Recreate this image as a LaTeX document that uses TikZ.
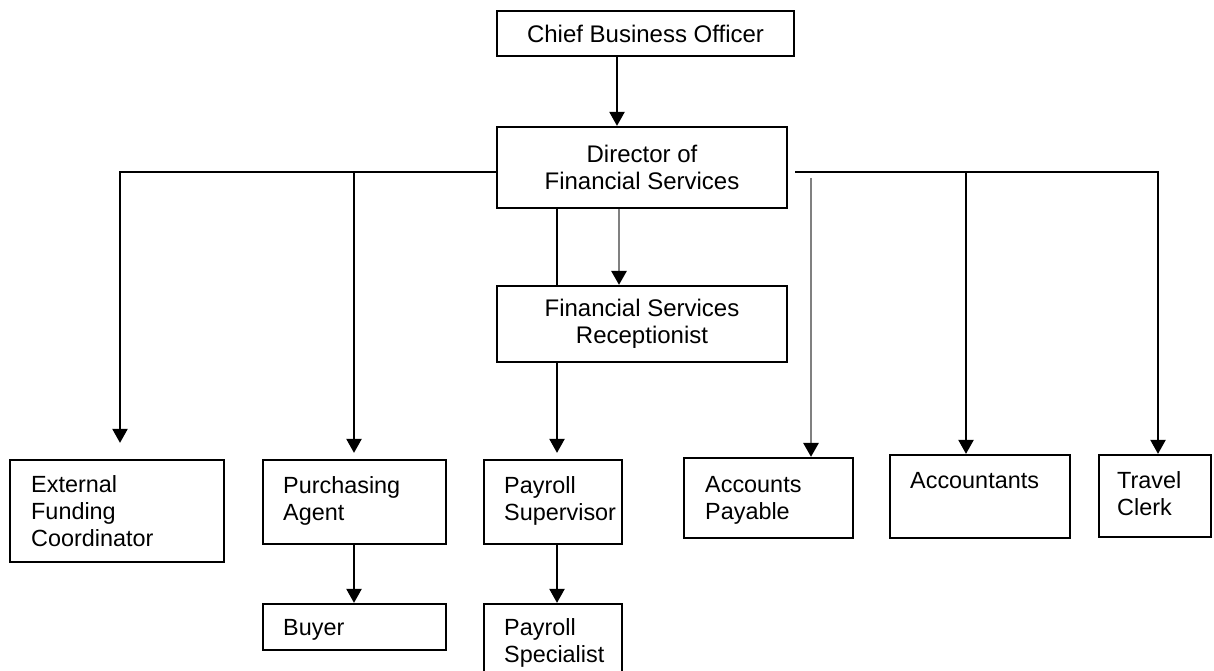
\documentclass[tikz,border=0pt]{standalone}
\usepackage{fontspec}
\setmainfont{Liberation Sans}
\usepackage{xcolor}
\usetikzlibrary{arrows.meta, backgrounds}

\definecolor{linkgray}{gray}{0.5}

\begin{document}
\begin{tikzpicture}[
    x=1pt, y=-1pt,
    font=\fontsize{24}{27}\selectfont,
    box/.style={rectangle, draw, line width=2.2pt, fill=white, align=center, inner sep=0pt},
    tag/.style={anchor=base west, align=left, inner sep=0pt, font=\fontsize{23.4}{27}\selectfont},
    arrow/.style={-{Triangle[width=15pt, length=14pt]}, line width=2.2pt},
    greyarrow/.style={arrow, draw=linkgray, line width=2.8pt, -{Triangle[width=15pt, length=14pt, color=black]}}
]
\useasboundingbox (0,0) rectangle (1214,671);
\clip (0,0) rectangle (1214,671);

\node[box, minimum width=297, minimum height=45] (cbo) at (645.5,33.5) {Chief Business Officer};
\node[box, minimum width=290, minimum height=81] (dfs) at (642,167.5) {Director of\\Financial Services};
\node[box, minimum width=290, minimum height=76] (fsr) at (642,324) {Financial Services\\Receptionist};

\node[box, minimum width=214, minimum height=102] (efc) at (117,511) {};
\node[box, minimum width=183, minimum height=84] (pa) at (354.5,502) {};
\node[box, minimum width=138, minimum height=84] (ps) at (553,502) {};
\node[box, minimum width=183, minimum height=46] (buyer) at (354.5,627) {};
\node[box, minimum width=138, minimum height=96] (pspec) at (553,652) {};
\node[box, minimum width=169, minimum height=80] (ap) at (768.5,498) {};
\node[box, minimum width=180, minimum height=83] (acc) at (980,496.5) {};
\node[box, minimum width=112, minimum height=82] (travel) at (1155,496) {};

% tags sit on the baseline of their last line
\node[tag] (efc-text) at (31,546) {External\\Funding\\Coordinator};
\node[tag] (pa-text) at (283,520) {Purchasing\\Agent};
\node[tag] (ps-text) at (504,520) {Payroll\\Supervisor};
\node[tag] (buyer-text) at (283,635) {Buyer};
\node[tag] (pspec-text) at (504,662) {Payroll\\Specialist};
\node[tag] (ap-text) at (705,519) {Accounts\\Payable};
\node[tag] (acc-text) at (910,488) {Accountants};
\node[tag] (travel-text) at (1117,515) {Travel\\Clerk};

\coordinate (lbus) at ([yshift=-4.5pt]dfs.west);
\coordinate (rbus) at ([xshift=7pt, yshift=-4.5pt]dfs.east);
\coordinate (ap-top) at (811,178);

\begin{scope}[on background layer]
\draw[arrow] (cbo.south -| 617,0) -- (dfs.north -| 617,0);
\draw[greyarrow] (dfs.south -| 619,0) -- (fsr.north -| 619,0);
\draw[arrow, shorten >=16pt] (lbus) -| (efc.north -| 120,0);
\draw[arrow, shorten >=6pt] (lbus -| 354,0) -- (pa.north -| 354,0);
\draw[arrow, shorten >=6pt] (dfs.south -| 557,0) -- (ps.north -| 557,0);
\draw[arrow] (pa.south -| 354,0) -- (buyer.north -| 354,0);
\draw[arrow] (ps.south -| 557,0) -- (pspec.north -| 557,0);
\draw[arrow] (rbus) -| (travel.north -| 1158,0);
\draw[arrow] (rbus -| 966,0) -- (acc.north -| 966,0);
\draw[greyarrow] (ap-top) -- (ap.north -| 811,0);
\end{scope}
\end{tikzpicture}
\end{document}
